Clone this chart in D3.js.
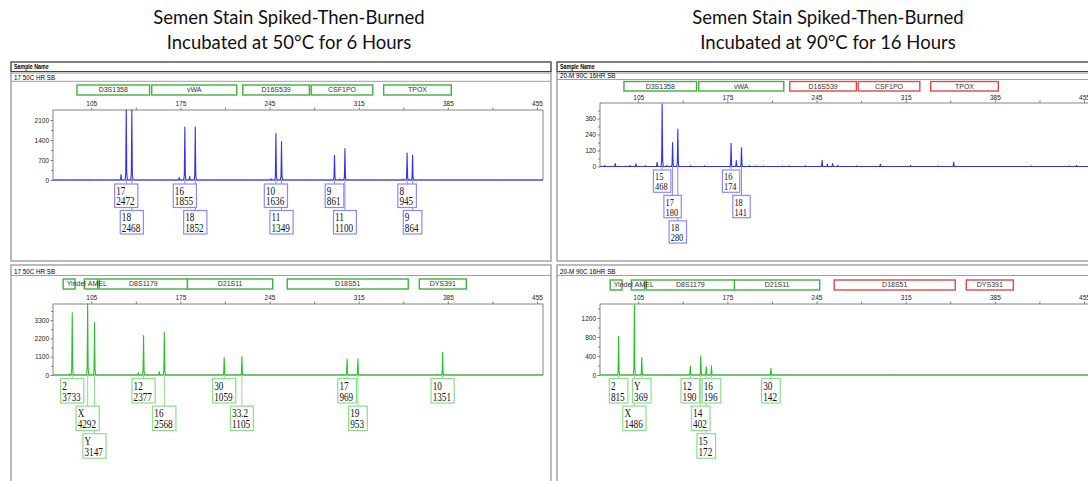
<!DOCTYPE html>
<html>
<head>
<meta charset="utf-8">
<script src="https://cdn.jsdelivr.net/npm/d3@7"></script>
<style>
  body { margin: 0; background: #fff; }
  svg { display: block; }
</style>
</head>
<body>
<div id="chart"></div>
<script>
// titles and sample names
const titleLeft = ["Semen Stain Spiked-Then-Burned", "Incubated at 50°C for 6 Hours"];
const titleRight = ["Semen Stain Spiked-Then-Burned", "Incubated at 90°C for 16 Hours"];
const sample50 = "17 50C HR SB";
const sample90 = "20-M 90C 16HR SB";

// size axis (bp)
const sizeTicks = [105, 175, 245, 315, 385, 455];
const sizeMinor = [140, 210, 280, 350, 420];

// blue dye loci, bin ranges in bp
const blueLoci = ["D3S1358", "vWA", "D16S539", "CSF1PO", "TPOX"];
const blueLociFrom = [93.8, 152.5, 224.0, 277.7, 334.6];
const blueLociTo = [150.8, 219.3, 276.3, 326.1, 387.7];
const blueLociOk50 = [1, 1, 1, 1, 1];
const blueLociOk90 = [1, 1, 0, 0, 0];

// green dye loci
const greenLoci = ["Yindel", "AMEL", "D8S1179", "D21S11", "D18S51", "DYS391"];
const greenLociFrom = [83.0, 99.6, 111.3, 180.6, 258.9, 362.6];
const greenLociTo = [92.3, 110.0, 180.6, 247.5, 353.9, 399.5];
const greenLociOk50 = [1, 1, 1, 1, 1, 1];
const greenLociOk90 = [1, 1, 1, 1, 0, 0];

// peaks: size (bp), height (RFU), allele call ("" = not called)
const blue50Size = [103.3, 110.3, 128.4, 132.5, 136.9, 174.1, 178.5, 182.3, 186.7, 246.1, 250.0, 254.4, 296.0, 300.0, 304.2, 349.7, 353.0, 357.3, 427.4];
const blue50Rfu = [10, 8, 190, 2472, 2468, 90, 1855, 130, 1852, 40, 1636, 1349, 861, 30, 1100, 30, 945, 864, 10];
const blue50Allele = ["", "", "", "17", "18", "", "16", "", "18", "", "10", "11", "9", "", "11", "", "8", "9", ""];
const blue50Ticks = [0, 700, 1400, 2100];
const blue50Max = 2450;

const blue90Size = [78.8, 87.0, 98.6, 103.2, 110.8, 119.8, 123.8, 127.7, 132.0, 136.1, 146.1, 157.0, 177.9, 182.0, 186.1, 192.4, 197.8, 203.2, 218.2, 223.6, 236.4, 249.4, 253.5, 257.6, 261.7, 276.6, 295.1, 318.8, 340.5, 352.7, 413.9, 443.8, 449.2];
const blue90Rfu = [8, 22, 8, 20, 6, 32, 468, 8, 180, 280, 6, 6, 174, 44, 141, 6, 5, 5, 4, 5, 6, 47, 18, 22, 10, 5, 18, 8, 5, 33, 5, 5, 8];
const blue90Allele = ["", "", "", "", "", "", "15", "", "17", "18", "", "", "16", "", "18", "", "", "", "", "", "", "", "", "", "", "", "", "", "", "", "", "", ""];
const blue90Ticks = [0, 120, 240, 360];
const blue90Max = 476;

const green50Size = [87.9, 90.1, 102.2, 107.6, 142.0, 146.1, 158.4, 162.4, 203.1, 204.7, 209.4, 219.0, 223.3, 302.2, 305.9, 310.3, 314.4, 376.6, 380.9];
const green50Rfu = [60, 3733, 4292, 3147, 150, 2377, 200, 2568, 40, 40, 1059, 50, 1105, 50, 969, 30, 953, 40, 1351];
const green50Allele = ["", "2", "X", "Y", "", "12", "", "16", "", "", "30", "", "33.2", "", "17", "", "19", "", "10"];
const green50Ticks = [0, 1100, 2200, 3300];
const green50Max = 4267;

const green90Size = [86.0, 89.6, 102.0, 107.8, 130.0, 145.9, 154.1, 158.4, 162.5, 209.2, 222.6, 303.5];
const green90Rfu = [10, 815, 1486, 369, 8, 190, 402, 172, 196, 142, 15, 15];
const green90Allele = ["", "2", "X", "Y", "", "12", "14", "15", "16", "30", "", ""];
const green90Ticks = [0, 400, 800, 1200];
const green90Max = 1495;

// --- drawing ---
const sans = "'Liberation Sans', Arial, sans-serif";
const serif = "'Liberation Serif', 'Times New Roman', serif";
const sizeDomain = [75, 459.7];
const plotW = 490;
const squeeze = 0.8;   // screenshot text looks horizontally squashed

const svg = d3.select("#chart").append("svg")
    .attr("width", 1088)
    .attr("height", 481);
svg.append("rect").attr("width", 1088).attr("height", 481).attr("fill", "#fff");

// titles
[[titleLeft, 289], [titleRight, 828]].forEach(([lines, cx]) => {
    svg.selectAll(null).data(lines).join("text")
        .attr("x", cx)
        .attr("y", (d, i) => 24 + i * 25)
        .attr("text-anchor", "middle")
        .attr("font-family", "Lato, 'Open Sans', sans-serif")
        .attr("font-size", 18.5)
        .attr("fill", "#111")
        .text(d => d);
});

let clipId = 0;

function drawPanel(p) {
    const g = svg.append("g");

    // panel frame
    g.append("rect")
        .attr("x", p.x0).attr("y", p.y0)
        .attr("width", p.x1 - p.x0).attr("height", p.y1 - p.y0)
        .attr("fill", "#fff").attr("stroke", "#aaa").attr("stroke-width", 1.6);

    if (p.header) {
        g.append("rect")
            .attr("x", p.x0).attr("y", p.y0)
            .attr("width", p.x1 - p.x0).attr("height", 9.5)
            .attr("fill", "none").attr("stroke", "#444").attr("stroke-width", 1);
        g.append("line")
            .attr("x1", p.x0).attr("x2", p.x1)
            .attr("y1", p.y0 + 11).attr("y2", p.y0 + 11)
            .attr("stroke", "#777").attr("stroke-width", 0.8);
        g.append("text")
            .attr("transform", `translate(${p.x0 + 3},${p.y0 + 7.3}) scale(0.8,1)`)
            .attr("font-family", sans).attr("font-size", 6.6).attr("font-weight", "bold")
            .text("Sample Name");
    }

    // sample row
    g.append("line")
        .attr("x1", p.x0).attr("x2", p.x1)
        .attr("y1", p.lineY).attr("y2", p.lineY)
        .attr("stroke", "#888").attr("stroke-width", 0.8);
    g.append("text")
        .attr("transform", `translate(${p.x0 + 3},${p.lineY - 1.6}) scale(0.9,1)`)
        .attr("font-family", sans).attr("font-size", 7)
        .text(p.sample);

    const x = d3.scaleLinear().domain(sizeDomain).range([p.plotL, p.plotL + plotW]);
    const y = d3.scaleLinear().domain([0, p.yMax]).range([p.plotB, p.plotT]);

    // loci bins
    const loci = g.append("g");
    p.loci.forEach((name, i) => {
        const x1 = x(p.from[i]), x2 = x(p.to[i]);
        loci.append("rect")
            .attr("x", x1).attr("y", p.locusT)
            .attr("width", x2 - x1).attr("height", p.locusB - p.locusT)
            .attr("fill", "#fff")
            .attr("stroke", p.ok[i] ? "#41b041" : "#e04848")
            .attr("stroke-width", 1.4);
    });
    p.loci.forEach((name, i) => {
        const x1 = x(p.from[i]), x2 = x(p.to[i]);
        const t = loci.append("text")
            .attr("y", (p.locusT + p.locusB) / 2 + 2.4)
            .attr("font-family", sans).attr("font-size", 7).attr("fill", "#333")
            .text(name);
        const tw = t.node().getComputedTextLength();
        if (tw > x2 - x1 - 2) {
            t.attr("x", x1 + 3.5);
        } else {
            t.attr("x", (x1 + x2) / 2).attr("text-anchor", "middle");
        }
    });

    // size axis on top of plot
    const xa = g.append("g").attr("transform", `translate(0,${p.plotT})`)
        .call(d3.axisTop(x).tickValues(sizeTicks).tickSize(2.5).tickPadding(p.tickPad).tickFormat(d3.format("d")));
    const xm = g.append("g").attr("transform", `translate(0,${p.plotT})`)
        .call(d3.axisTop(x).tickValues(sizeMinor).tickSize(2.5).tickFormat(""));

    // RFU axis
    const step = p.yTicks[1] - p.yTicks[0];
    const minor = p.yTicks.map(v => v + step / 2).filter(v => v < p.yMax);
    const ya = g.append("g").attr("transform", `translate(${p.plotL},0)`)
        .call(d3.axisLeft(y).tickValues(p.yTicks).tickSize(2.5).tickPadding(1.5).tickFormat(d3.format("d")));
    const ym = g.append("g").attr("transform", `translate(${p.plotL},0)`)
        .call(d3.axisLeft(y).tickValues(minor).tickSize(2).tickFormat(""));

    [xa, xm, ya, ym].forEach(a => {
        a.select(".domain").remove();
        a.selectAll("line").attr("stroke", "#666").attr("stroke-width", 0.8);
        a.selectAll("text").attr("font-family", sans).attr("font-size", 6.5).attr("fill", "#222");
    });

    // plot frame
    g.append("rect")
        .attr("x", p.plotL).attr("y", p.plotT)
        .attr("width", plotW).attr("height", p.plotB - p.plotT)
        .attr("fill", "none").attr("stroke", "#666").attr("stroke-width", 0.8);

    // electropherogram trace
    const id = "clip" + (clipId++);
    g.append("clipPath").attr("id", id)
        .append("rect")
        .attr("x", p.plotL).attr("y", p.plotT - 0.5)
        .attr("width", plotW).attr("height", p.plotB - p.plotT + 1.5);

    const dx = [-0.85, -0.4, -0.17, 0, 0.17, 0.4, 0.85];
    const k = [0, 0.1, 0.6, 1, 0.6, 0.1, 0];
    const pts = [[sizeDomain[0], 0]];
    p.sizes.forEach((s, i) => dx.forEach((d, j) => pts.push([s + d, p.rfu[i] * k[j]])));
    pts.push([sizeDomain[1], 0]);
    pts.sort((a, b) => a[0] - b[0]);

    g.append("path")
        .attr("clip-path", `url(#${id})`)
        .attr("d", d3.line().x(d => x(d[0])).y(d => y(d[1]))(pts))
        .attr("fill", "none")
        .attr("stroke", p.color)
        .attr("stroke-width", 1.1)
        .attr("stroke-linejoin", "round");

    // allele call boxes
    const links = g.append("g");
    const boxes = g.append("g");
    const rowEnd = [];
    p.sizes.forEach((s, i) => {
        if (p.alleles[i] === "") return;
        const cx = x(s);
        const bg = boxes.append("g");
        const rect = bg.append("rect");
        const l1 = bg.append("text").text(p.alleles[i]);
        const l2 = bg.append("text").text(p.rfu[i]);
        [l1, l2].forEach(t => t.attr("font-family", serif).attr("font-size", p.box.font).attr("fill", "#111"));
        const tw = Math.max(l1.node().getComputedTextLength(), l2.node().getComputedTextLength()) * squeeze;
        const w = tw + 4.8;
        const left = cx - w / 2;
        let r = 0;
        while (rowEnd[r] !== undefined && left < rowEnd[r] + 1.5) r++;
        rowEnd[r] = left + w;
        const top = p.plotB + p.box.off + r * p.box.gap;
        rect.attr("x", left).attr("y", top)
            .attr("width", w).attr("height", p.box.h)
            .attr("fill", "#fff").attr("stroke", p.boxColor).attr("stroke-width", 1.2);
        l1.attr("transform", `translate(${left + 1.6},${top + p.box.h * 0.455}) scale(${squeeze},1)`);
        l2.attr("transform", `translate(${left + 1.6},${top + p.box.h * 0.905}) scale(${squeeze},1)`);
        links.append("line")
            .attr("x1", cx).attr("x2", cx)
            .attr("y1", p.plotB).attr("y2", top)
            .attr("stroke", p.boxColor).attr("stroke-width", 1);
    });
}

const blueC = "#3030f4", blueBox = "#8a8aff";
const greenC = "#2cbf2c", greenBox = "#8fdc8f";

drawPanel({
    x0: 11, x1: 551, y0: 62, y1: 261, header: true, sample: sample50, lineY: 81.3,
    locusT: 85, locusB: 95, plotL: 53, plotT: 110, plotB: 180, tickPad: 1.5,
    loci: blueLoci, from: blueLociFrom, to: blueLociTo, ok: blueLociOk50,
    sizes: blue50Size, rfu: blue50Rfu, alleles: blue50Allele,
    yTicks: blue50Ticks, yMax: blue50Max, color: blueC, boxColor: blueBox,
    box: { off: 4, h: 23.5, gap: 26.5, font: 11.5 }
});
drawPanel({
    x0: 557, x1: 1100, y0: 62, y1: 261, header: true, sample: sample90, lineY: 79.5,
    locusT: 81.5, locusB: 91, plotL: 600, plotT: 103, plotB: 166.5, tickPad: 0.5,
    loci: blueLoci, from: blueLociFrom, to: blueLociTo, ok: blueLociOk90,
    sizes: blue90Size, rfu: blue90Rfu, alleles: blue90Allele,
    yTicks: blue90Ticks, yMax: blue90Max, color: blueC, boxColor: blueBox,
    box: { off: 3.5, h: 22.3, gap: 25.4, font: 10.5 }
});
drawPanel({
    x0: 11, x1: 551, y0: 265, y1: 495, header: false, sample: sample50, lineY: 275.5,
    locusT: 279, locusB: 289, plotL: 53, plotT: 304, plotB: 375, tickPad: 1.5,
    loci: greenLoci, from: greenLociFrom, to: greenLociTo, ok: greenLociOk50,
    sizes: green50Size, rfu: green50Rfu, alleles: green50Allele,
    yTicks: green50Ticks, yMax: green50Max, color: greenC, boxColor: greenBox,
    box: { off: 3.5, h: 24.5, gap: 27.6, font: 11.5 }
});
drawPanel({
    x0: 557, x1: 1100, y0: 265, y1: 495, header: false, sample: sample90, lineY: 275.5,
    locusT: 280, locusB: 290, plotL: 600, plotT: 304, plotB: 375, tickPad: 1.5,
    loci: greenLoci, from: greenLociFrom, to: greenLociTo, ok: greenLociOk90,
    sizes: green90Size, rfu: green90Rfu, alleles: green90Allele,
    yTicks: green90Ticks, yMax: green90Max, color: greenC, boxColor: greenBox,
    box: { off: 3.5, h: 24.5, gap: 27.6, font: 11.5 }
});
</script>
</body>
</html>
